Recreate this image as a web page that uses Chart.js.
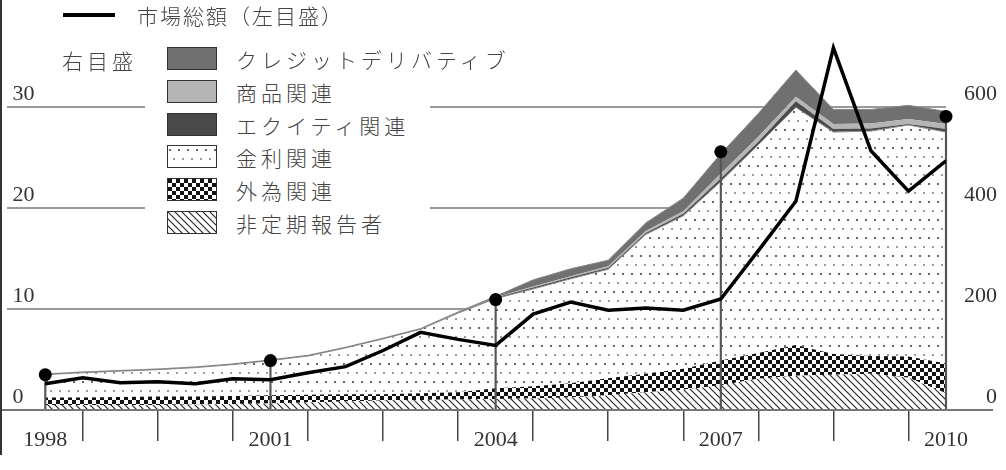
<!DOCTYPE html>
<html>
<head>
<meta charset="utf-8">
<script src="https://cdn.jsdelivr.net/npm/chart.js@4.4.1/dist/chart.umd.min.js"></script>
<style>
  body { margin: 0; background: #fff; }
  #wrap { position: relative; width: 1006px; height: 470px; }
  .t { position: absolute; font-family: "Noto Sans CJK JP", sans-serif; font-weight: 300; font-size: 21px;
       color: #444; line-height: 24px; white-space: nowrap; letter-spacing: 4px; }
  .sw { position: absolute; left: 167px; width: 48px; height: 21px; border: 1px solid #333; }
</style>
</head>
<body>
<div id="wrap">
  <canvas id="chart" width="1006" height="470"></canvas>
  <div style="position:absolute;left:145px;top:40px;width:285px;height:200px;background:#fff"></div>
  <div style="position:absolute;left:63px;top:13px;width:52px;height:4px;background:#000"></div>
  <div class="t" style="left:137px;top:3px;letter-spacing:2px">市場総額（左目盛）</div>
  <div class="t" style="left:62px;top:48px">右目盛</div>
  <div id="legend"></div>
</div>
<script>
// half-year observations
const periods = [1998, 1998.5, 1999, 1999.5, 2000, 2000.5, 2001, 2001.5, 2002, 2002.5, 2003, 2003.5,
                 2004, 2004.5, 2005, 2005.5, 2006, 2006.5, 2007, 2007.5, 2008, 2008.5, 2009, 2009.5, 2010];

// left scale
const marketTotal = [2.6, 3.2, 2.7, 2.8, 2.6, 3.1, 3.0, 3.7, 4.3, 5.9, 7.7, 7.0,
                     6.4, 9.5, 10.7, 9.9, 10.1, 9.9, 11.0, 15.8, 20.7, 35.9, 25.7, 21.7, 24.7];

// right scale (stacked, bottom to top)
const nonRegular = [10, 10, 10, 10, 11, 12, 13, 15, 17, 19, 20, 21, 22, 23, 25, 29, 35, 40, 49, 62, 68, 70, 72, 64, 33];
const fxRelated = [15, 15, 16, 17, 16, 16, 16, 15, 14, 12, 13, 14, 21, 24, 28, 34, 37, 42, 49, 51, 61, 41, 35, 42, 59];
const rateRelated = [45, 49, 51, 53, 57, 62, 69, 77, 92, 110, 127, 157, 178, 193, 207, 216, 276, 303, 355, 413, 471, 440, 446, 459, 459];
const equityRelated = [1, 1, 1, 1, 1, 1, 1, 1, 1, 1, 1, 1, 2, 3, 3, 3, 3, 4, 6, 6, 12, 6, 5, 2, 6];
const commodityRelated = [0.5, 0.5, 0.5, 0.5, 0.5, 0.5, 0.5, 0.5, 0.5, 0.5, 0.5, 0.5, 0.5, 2, 2, 3, 4, 5, 10, 10, 9, 10, 10, 10, 10];
const creditDeriv = [0, 0, 0, 0, 0, 0, 0, 0, 0, 0, 0, 1, 2, 13, 15, 12, 16, 26, 39, 46, 53, 29, 28, 27, 25];

// survey totals (right scale)
const surveyYears = [1998, 2001, 2004, 2007, 2010];
const surveyTotals = [70, 98, 219, 512, 582];

const axisTicks = [1998, 1998.5, 1999.5, 2000.5, 2001, 2001.5, 2002.5, 2003.5, 2004, 2004.5,
                   2005.5, 2006.5, 2007, 2007.5, 2008.5, 2009.5, 2010];
const yearLabels = [1998, 2001, 2004, 2007, 2010];
const leftTicks = [0, 10, 20, 30];
const rightTicks = [0, 200, 400, 600];

function tile(w, h, draw) {
  const c = document.createElement('canvas');
  c.width = w; c.height = h;
  const g = c.getContext('2d');
  g.fillStyle = '#fff';
  g.fillRect(0, 0, w, h);
  draw(g);
  return c;
}

const hatchTile = tile(7, 7, g => {
  g.strokeStyle = '#222';
  g.lineWidth = 1.1;
  g.beginPath();
  g.moveTo(-1, -1); g.lineTo(8, 8);
  g.moveTo(-1, 6); g.lineTo(1, 8);
  g.moveTo(6, -1); g.lineTo(8, 1);
  g.stroke();
});
const checkTile = tile(8, 8, g => {
  g.fillStyle = '#111';
  g.fillRect(0, 0, 4, 4);
  g.fillRect(4, 4, 4, 4);
});
const dotTile = tile(9, 18, g => {
  g.fillStyle = '#666';
  g.fillRect(1, 3, 2, 2);
  g.fillStyle = '#999';
  g.fillRect(5, 12, 2, 2);
});

const ctx = document.getElementById('chart').getContext('2d');
const hatch = ctx.createPattern(hatchTile, 'repeat');
const check = ctx.createPattern(checkTile, 'repeat');
const dots = ctx.createPattern(dotTile, 'repeat');

const toXY = arr => arr.map((v, i) => ({ x: periods[i], y: v }));
const survey = surveyYears.map((x, i) => ({ x: x, y: surveyTotals[i] }));

function area(label, data, bg, fill, border) {
  return {
    type: 'line', label: label, data: toXY(data), yAxisID: 'yR',
    backgroundColor: bg, borderColor: border || 'rgba(0,0,0,0)', borderWidth: border ? 1 : 0,
    pointRadius: 0, tension: 0, fill: fill, order: 10
  };
}

// legend (top to bottom)
const legendNames = ['クレジットデリバティブ', '商品関連', 'エクイティ関連', '金利関連', '外為関連', '非定期報告者'];
const legendFills = ['#707070', '#b5b5b5', '#4a4a4a', dotTile, checkTile, hatchTile];
const legendTops = [47, 80, 113, 145, 178, 211];

const leg = document.getElementById('legend');
legendNames.forEach((name, i) => {
  const sw = document.createElement('canvas');
  sw.className = 'sw';
  sw.width = 48; sw.height = 21;
  sw.style.top = legendTops[i] + 'px';
  const g = sw.getContext('2d');
  const f = legendFills[i];
  g.fillStyle = typeof f === 'string' ? f : g.createPattern(f, 'repeat');
  g.fillRect(0, 0, 48, 21);
  leg.appendChild(sw);
  const t = document.createElement('div');
  t.className = 't';
  t.style.left = '236px';
  t.style.top = (legendTops[i] - 0.5) + 'px';
  t.textContent = name;
  leg.appendChild(t);
});

const frame = {
  id: 'frame',
  afterDatasetsDraw(chart) {
    const { ctx, chartArea: a } = chart;
    ctx.save();
    ctx.lineWidth = 2;
    ctx.strokeStyle = '#777';
    ctx.beginPath();
    ctx.moveTo(0, a.bottom);
    ctx.lineTo(a.right + 47, a.bottom);
    ctx.stroke();
    ctx.strokeStyle = '#333';
    ctx.beginPath();
    ctx.moveTo(1, 0);
    ctx.lineTo(1, a.bottom + 45);
    ctx.stroke();
    ctx.restore();
  }
};

// keep the plot area where the axes put it, no label padding
const noPad = s => { s.paddingTop = 0; s.paddingBottom = 0; s.paddingLeft = 0; s.paddingRight = 0; };
const numFont = { family: 'Liberation Serif', size: 22 };

new Chart(ctx, {
  type: 'line',
  data: {
    datasets: [
      area('非定期報告者', nonRegular, hatch, 'origin'),
      area('外為関連', fxRelated, check, '-1'),
      area('金利関連', rateRelated, dots, '-1', '#888'),
      area('エクイティ関連', equityRelated, '#4a4a4a', '-1'),
      area('商品関連', commodityRelated, '#b5b5b5', '-1'),
      area('クレジットデリバティブ', creditDeriv, '#707070', '-1', '#888'),
      {
        type: 'line', label: '市場総額（左目盛）', data: toXY(marketTotal), yAxisID: 'yL',
        borderColor: '#000', borderWidth: 3.5, pointRadius: 0, tension: 0, fill: false, order: 0
      },
      {
        type: 'line', label: 'survey', data: survey, yAxisID: 'yR', stack: 'survey',
        showLine: false, pointRadius: 6.5, pointBackgroundColor: '#000', pointBorderWidth: 0,
        order: 1, clip: false
      },
      {
        type: 'bar', label: 'drop', data: survey, yAxisID: 'yR', stack: 'drop',
        backgroundColor: '#555', barThickness: 1.5, order: 2, clip: false
      }
    ]
  },
  options: {
    responsive: false,
    animation: false,
    layout: { padding: { left: 1, right: 9, top: 0, bottom: 0 } },
    plugins: { legend: { display: false }, tooltip: { enabled: false } },
    scales: {
      x: {
        type: 'linear', min: 1997.4834, max: 2010, offset: false,
        afterBuildTicks: s => { s.ticks = axisTicks.map(v => ({ value: v })); },
        afterFit: s => { s.height = 60; noPad(s); },
        grid: {
          offset: false, drawOnChartArea: false, drawTicks: true, tickLength: 31, lineWidth: 1.5,
          color: c => (c.tick && c.tick.value % 1 !== 0) ? '#444' : 'rgba(0,0,0,0)'
        },
        border: { display: false },
        ticks: {
          autoSkip: false, maxRotation: 0, padding: -14, color: '#333', font: numFont,
          callback: v => yearLabels.includes(v) ? String(v) : ''
        }
      },
      yL: {
        position: 'left', min: 0, max: 40,
        afterBuildTicks: s => { s.ticks = leftTicks.map(v => ({ value: v })); },
        afterFit: s => { s.width = 0; noPad(s); },
        grid: {
          drawTicks: false, lineWidth: 2,
          color: c => (c.tick && c.tick.value > 0) ? '#9a9a9a' : 'rgba(0,0,0,0)'
        },
        border: { display: false },
        ticks: { mirror: true, padding: 6, labelOffset: -13, color: '#333', font: numFont }
      },
      yR: {
        position: 'right', min: 0, max: 800, stacked: true,
        afterBuildTicks: s => { s.ticks = rightTicks.map(v => ({ value: v })); },
        afterFit: s => { s.width = 51; noPad(s); },
        grid: { display: false, drawTicks: false },
        border: { display: false },
        ticks: { crossAlign: 'far', padding: 9, labelOffset: -13, color: '#333', font: numFont }
      }
    }
  },
  plugins: [frame]
});
</script>
</body>
</html>
